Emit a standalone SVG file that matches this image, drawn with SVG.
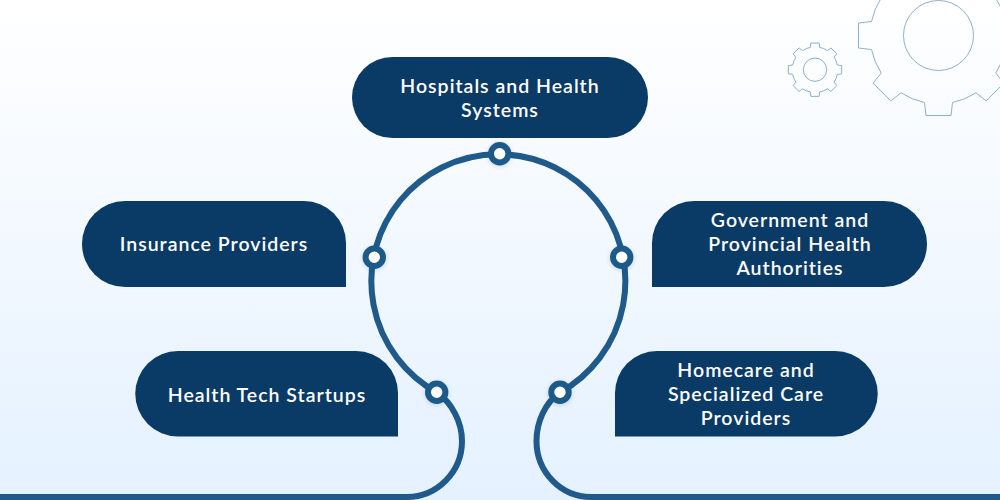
<svg xmlns="http://www.w3.org/2000/svg" width="1000" height="500" viewBox="0 0 1000 500">
  <style>
    .box { fill: #0a3a66; }
    .label { fill: #ffffff; font-family: "Lato", "Noto Sans", sans-serif; font-size: 19.5px; font-weight: 600; letter-spacing: 1px; text-anchor: middle; }
    .wire { fill: none; stroke: #1f5a8a; stroke-width: 6; }
    .dot { fill: #ffffff; stroke: #1f5a8a; stroke-width: 6; filter: url(#soft); }
    .gear { fill: none; stroke: #8fb0cc; stroke-width: 1; vector-effect: non-scaling-stroke; }
  </style>
  <defs>
    <linearGradient id="bg" x1="0" y1="0" x2="0" y2="1">
      <stop offset="0" stop-color="#ffffff"/>
      <stop offset="1" stop-color="#e4f1ff"/>
    </linearGradient>
    <filter id="soft" x="-50%" y="-50%" width="200%" height="200%">
      <feDropShadow dx="0" dy="1" stdDeviation="2" flood-color="#0a3a66" flood-opacity="0.18"/>
    </filter>
    <g id="gearShape">
      <path class="gear" d="M-14-67L-12.5-80H12.5L14-67A68.4 68.4 0 0 1 37.5-57.3L47.7-65.4L65.4-47.7L57.3-37.5A68.4 68.4 0 0 1 67-14L80-12.5V12.5L67 14A68.4 68.4 0 0 1 57.3 37.5L65.4 47.7L47.7 65.4L37.5 57.3A68.4 68.4 0 0 1 14 67L12.5 80H-12.5L-14 67A68.4 68.4 0 0 1 -37.5 57.3L-47.7 65.4L-65.4 47.7L-57.3 37.5A68.4 68.4 0 0 1 -67 14L-80 12.5V-12.5L-67-14A68.4 68.4 0 0 1 -57.3-37.5L-65.4-47.7L-47.7-65.4L-37.5-57.3A68.4 68.4 0 0 1 -14-67Z"/>
      <circle class="gear" r="35"/>
    </g>
  </defs>
  <rect width="1000" height="500" fill="url(#bg)"/>
  <g id="gears">
    <use href="#gearShape" transform="translate(938.5 35.5)"/>
    <use href="#gearShape" transform="translate(815 69.7) scale(0.3333)"/>
  </g>
  <g id="connectors">
    <path class="wire" d="M0 497H407C437 497 462 472 462 441C462 422 452 403 436.700 392.300A127 127 0 1 1 560 392.300C545 403 536.500 422 536.500 441C536.500 472 561 497 591 497H1000"/>
  </g>
  <g id="node-top">
    <rect class="box" x="352" y="57" width="296" height="81" rx="40.500"/>
    <text class="label" x="500" y="93">Hospitals and Health</text>
    <text class="label" x="500" y="117">Systems</text>
  </g>
  <g id="node-insurance">
    <path class="box" d="M125 201H304A42 42 0 0 1 346 243V287H125A43 43 0 0 1 125 201Z"/>
    <text class="label" x="214" y="251">Insurance Providers</text>
  </g>
  <g id="node-government">
    <path class="box" d="M694 201H884A43 43 0 0 1 884 287H652V243A42 42 0 0 1 694 201Z"/>
    <text class="label" x="790" y="227">Government and</text>
    <text class="label" x="790" y="251">Provincial Health</text>
    <text class="label" x="790" y="275">Authorities</text>
  </g>
  <g id="node-startups">
    <path class="box" d="M178 351H356A42 42 0 0 1 398 393V436.500H178A42.750 42.750 0 0 1 178 351Z"/>
    <text class="label" x="267" y="402">Health Tech Startups</text>
  </g>
  <g id="node-homecare">
    <path class="box" d="M657 351H835A42.750 42.750 0 0 1 835 436.500H615V393A42 42 0 0 1 657 351Z"/>
    <text class="label" x="746" y="377">Homecare and</text>
    <text class="label" x="746" y="401">Specialized Care</text>
    <text class="label" x="746" y="425">Providers</text>
  </g>
  <g id="dots">
    <circle class="dot" cx="499.700" cy="153.700" r="8.700"/>
    <circle class="dot" cx="374.300" cy="257.300" r="8.700"/>
    <circle class="dot" cx="621.700" cy="257.300" r="8.700"/>
    <circle class="dot" cx="436.700" cy="392.300" r="8.700"/>
    <circle class="dot" cx="560" cy="392.300" r="8.700"/>
  </g>
</svg>
